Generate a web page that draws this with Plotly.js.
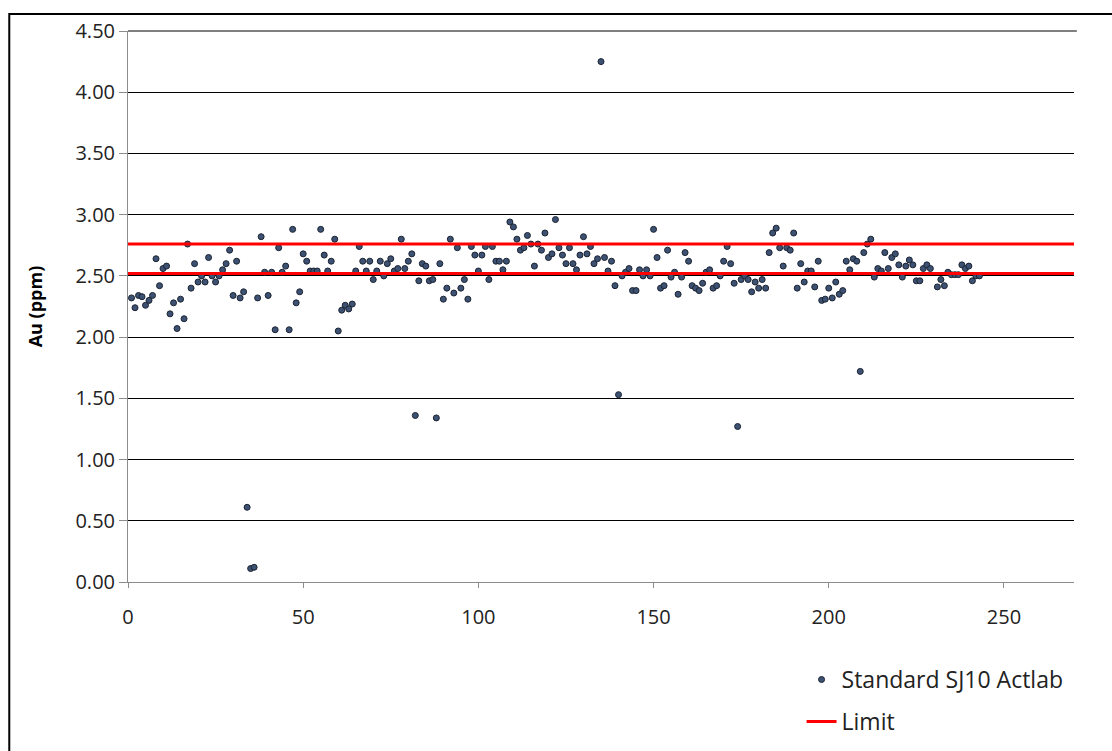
<!DOCTYPE html>
<html>
<head>
<meta charset="utf-8">
<script src="https://cdn.plot.ly/plotly-3.0.1.min.js"></script>
<style>
  html, body { margin: 0; padding: 0; background: #ffffff; }
  #chart { width: 1112px; height: 751px; }
</style>
</head>
<body>
<div id="chart"></div>
<script>
// Sample number (x) and Au assay value (ppm) for Standard SJ10 Actlab
const sampleNo = [
  1,2,3,4,5,6,7,8,9,10,11,12,13,14,15,16,17,18,19,20,
  21,22,23,24,25,26,27,28,29,30,31,32,33,34,35,36,37,38,39,40,
  41,42,43,44,45,46,47,48,49,50,51,52,53,54,55,56,57,58,59,60,
  61,62,63,64,65,66,67,68,69,70,71,72,73,74,75,76,77,78,79,80,
  81,82,83,84,85,86,87,88,89,90,91,92,93,94,95,96,97,98,99,100,
  101,102,103,104,105,106,107,108,109,110,111,112,113,114,115,116,117,118,119,120,
  121,122,123,124,125,126,127,128,129,130,131,132,133,134,135,136,137,138,139,140,
  141,142,143,144,145,146,147,148,149,150,151,152,153,154,155,156,157,158,159,160,
  161,162,163,164,165,166,167,168,169,170,171,172,173,174,175,176,177,178,179,180,
  181,182,183,184,185,186,187,188,189,190,191,192,193,194,195,196,197,198,199,200,
  201,202,203,204,205,206,207,208,209,210,211,212,213,214,215,216,217,218,219,220,
  221,222,223,224,225,226,227,228,229,231,232,233,234,235,236,237,238,239,240,241,
  242,243
];
const auPpm = [
  2.32,2.24,2.34,2.33,2.26,2.30,2.34,2.64,2.42,2.56,2.58,2.19,2.28,2.07,2.31,2.15,2.76,2.40,2.60,2.45,
  2.50,2.45,2.65,2.50,2.45,2.50,2.55,2.60,2.71,2.34,2.62,2.32,2.37,0.61,0.11,0.12,2.32,2.82,2.53,2.34,
  2.53,2.06,2.73,2.53,2.58,2.06,2.88,2.28,2.37,2.68,2.62,2.54,2.54,2.54,2.88,2.67,2.54,2.62,2.80,2.05,
  2.22,2.26,2.23,2.27,2.54,2.74,2.62,2.54,2.62,2.47,2.54,2.62,2.50,2.60,2.64,2.54,2.56,2.80,2.56,2.62,
  2.68,1.36,2.46,2.60,2.58,2.46,2.47,1.34,2.60,2.31,2.40,2.80,2.36,2.73,2.40,2.47,2.31,2.74,2.67,2.54,
  2.67,2.74,2.47,2.74,2.62,2.62,2.55,2.62,2.94,2.90,2.80,2.71,2.73,2.83,2.76,2.58,2.76,2.71,2.85,2.65,
  2.68,2.96,2.73,2.67,2.60,2.73,2.60,2.55,2.67,2.82,2.68,2.74,2.60,2.64,4.25,2.65,2.54,2.62,2.42,1.53,
  2.50,2.53,2.56,2.38,2.38,2.55,2.50,2.55,2.50,2.88,2.65,2.40,2.42,2.71,2.49,2.53,2.35,2.49,2.69,2.62,
  2.42,2.40,2.38,2.44,2.53,2.55,2.40,2.42,2.50,2.62,2.74,2.60,2.44,1.27,2.47,2.50,2.47,2.37,2.45,2.40,
  2.47,2.40,2.69,2.85,2.89,2.73,2.58,2.73,2.71,2.85,2.40,2.60,2.45,2.54,2.54,2.41,2.62,2.30,2.31,2.40,
  2.32,2.45,2.35,2.38,2.62,2.55,2.64,2.62,1.72,2.69,2.76,2.80,2.49,2.56,2.54,2.69,2.56,2.65,2.68,2.59,
  2.49,2.58,2.63,2.59,2.46,2.46,2.56,2.59,2.56,2.41,2.47,2.42,2.53,2.51,2.51,2.51,2.59,2.56,2.58,2.46,
  2.50,2.50
];

// Control limits (ppm)
const lowerLimit = 2.52;
const upperLimit = 2.76;
const limitXRange = [0, 270];

const xTicks = [0, 50, 100, 150, 200, 250];
const yTicks = [0, 0.5, 1.0, 1.5, 2.0, 2.5, 3.0, 3.5, 4.0, 4.5];

const seriesName = 'Standard SJ10 Actlab';
const limitName = 'Limit';
const yTitle = 'Au (ppm)';

const font = 'Open Sans, Liberation Sans, sans-serif';

const traces = [
  {
    type: 'scatter',
    mode: 'markers',
    name: seriesName,
    x: sampleNo,
    y: auPpm,
    marker: { size: 6, color: '#3d5272', line: { color: '#1b2333', width: 1 } },
    legendgroup: 'a',
    cliponaxis: false
  },
  {
    type: 'scatter',
    mode: 'lines',
    name: limitName,
    x: [limitXRange[0], limitXRange[1], null, limitXRange[0], limitXRange[1]],
    y: [upperLimit, upperLimit, null, lowerLimit, lowerLimit],
    line: { color: '#ff0000', width: 3 },
    legendgroup: 'b',
    connectgaps: false
  }
];

const layout = {
  width: 1112,
  height: 751,
  paper_bgcolor: '#ffffff',
  plot_bgcolor: '#ffffff',
  margin: { l: 128, r: 38, t: 31, b: 169, pad: 0, autoexpand: false },
  font: { family: font, size: 20, color: '#222222' },
  showlegend: true,
  legend: {
    x: 0.712, y: -0.138, xanchor: 'left', yanchor: 'top',
    traceorder: 'grouped', tracegroupgap: 9,
    font: { family: font, size: 23, color: '#222222' },
    bgcolor: 'rgba(0,0,0,0)', itemwidth: 30
  },
  xaxis: {
    range: [0, 270],
    tickmode: 'array', tickvals: xTicks,
    showgrid: false, zeroline: false,
    showline: true, linecolor: '#8c8c8c', linewidth: 1,
    ticks: 'outside', ticklen: 5, tickcolor: '#8c8c8c',
    ticklabelstandoff: 12,
    tickfont: { family: font, size: 20, color: '#222222' }
  },
  yaxis: {
    range: [0, 4.5],
    tickmode: 'array', tickvals: yTicks, tickformat: '.2f',
    showgrid: true, gridcolor: '#000000', gridwidth: 1,
    zeroline: false,
    showline: true, linecolor: '#8c8c8c', linewidth: 1,
    ticks: 'outside', ticklen: 8, tickcolor: '#8c8c8c',
    tickfont: { family: font, size: 20, color: '#222222' },
    title: { text: '<b>' + yTitle + '</b>', font: { family: font, size: 18, color: '#000000' }, standoff: 28 }
  },
  shapes: [
    {
      type: 'rect', xref: 'paper', yref: 'paper',
      x0: -0.1255, x1: 1.5, y0: -1.0, y1: 1.0309,
      line: { color: '#000000', width: 2 }, fillcolor: 'rgba(0,0,0,0)', layer: 'above'
    },
    {
      type: 'line', xref: 'paper', yref: 'paper',
      x0: 0, x1: 1.003, y0: 1, y1: 1,
      line: { color: '#000000', width: 1 }
    }
  ]
};

Plotly.newPlot('chart', traces, layout, { displayModeBar: false, staticPlot: true });
</script>
</body>
</html>
